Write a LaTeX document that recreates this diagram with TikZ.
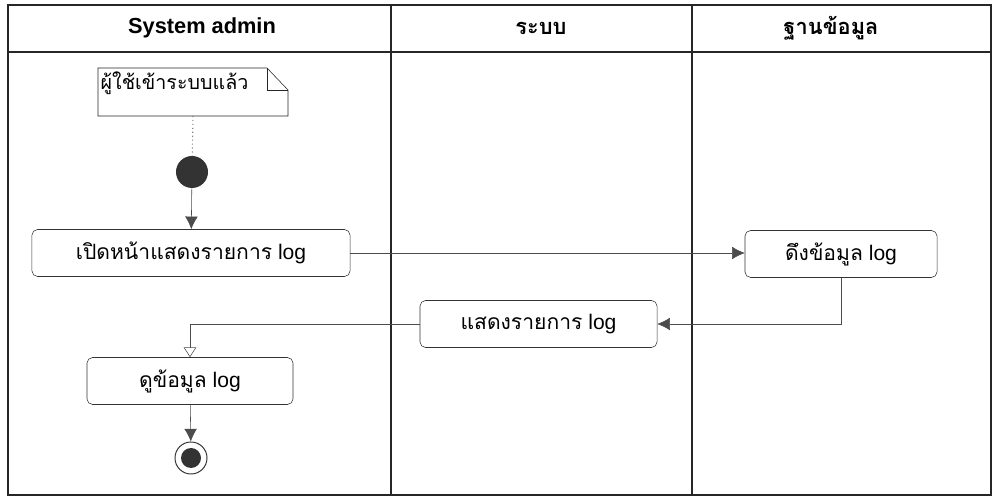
\documentclass[tikz,border=0pt]{standalone}
\usepackage{fontspec}
\setmainfont{Liberation Sans}
\newfontfamily\thaifont[Script=Thai]{Loma}
\usetikzlibrary{arrows.meta}

\begin{document}
\begin{tikzpicture}[x=0.025cm,y=-0.025cm,
  lanehead/.style={font=\fontsize{15.5}{18}\selectfont\bfseries},
  act/.style={draw=black!80,rounded corners=4pt,minimum height=1.175cm,inner sep=0pt,font=\fontsize{15}{18}\selectfont},
  flow/.style={draw=black!70,-{Latex[length=9pt,width=9pt]}}]
  \useasboundingbox (0,0) rectangle (993,497);
  % lanes
  \draw[black!85,line width=0.8pt] (8,5) rectangle (991,495);
  \draw[black!85,line width=0.8pt] (8,52) -- (991,52);
  \draw[black!85,line width=0.8pt] (391,5) -- (391,495);
  \draw[black!85,line width=0.8pt] (692,5) -- (692,495);
  \node[lanehead] (admin) at (202,28) {System admin};
  \node[lanehead] (sys) at (541,28) {\thaifont ระบบ};
  \node[lanehead] (db) at (831,28) {\thaifont ฐานข้อมูล};
  % note
  \draw[black!85] (98,68) -- (267,68) -- (288,90) -- (288,116) -- (98,116) -- cycle;
  \draw[black!85] (267,68) -- (267,90) -- (288,90);
  \node[anchor=west,inner sep=1pt,font=\fontsize{14}{16}\selectfont] (note) at (99,83) {\thaifont ผู้ใช้เข้าระบบแล้ว};
  \coordinate (noteb) at (193,116);
  % nodes
  \node[circle,fill=black!80,minimum size=0.8cm,inner sep=0pt] (start) at (192,172) {};
  \node[act,minimum width=7.95cm] (open) at (191,253) {{\thaifont เปิดหน้าแสดงรายการ} log};
  \node[act,minimum width=4.8cm] (fetch) at (841,254) {{\thaifont ดึงข้อมูล} log};
  \node[act,minimum width=5.925cm] (show) at (538.5,324) {{\thaifont แสดงรายการ} log};
  \node[act,minimum width=5.15cm] (view) at (190,381) {{\thaifont ดูข้อมูล} log};
  \node[circle,draw=black!80,line width=0.7pt,minimum size=0.8cm,inner sep=0pt] (stop) at (191,458) {};
  \node[circle,fill=black!80,minimum size=0.5cm,inner sep=0pt] (stopdot) at (stop) {};
  % flows
  \draw[dotted,black!50,line width=0.8pt] (noteb) -- (start);
  \draw[flow] (start) -- (open);
  \draw[flow] (open.east) -- (fetch.west |- open.east);
  \draw[flow] (fetch.south) |- (show.east);
  \draw[draw=black!70,-{Triangle[open,length=7pt,width=9pt]}] (show.west) -| (view.north);
  \draw[flow] (view) -- (stop);
\end{tikzpicture}
\end{document}
